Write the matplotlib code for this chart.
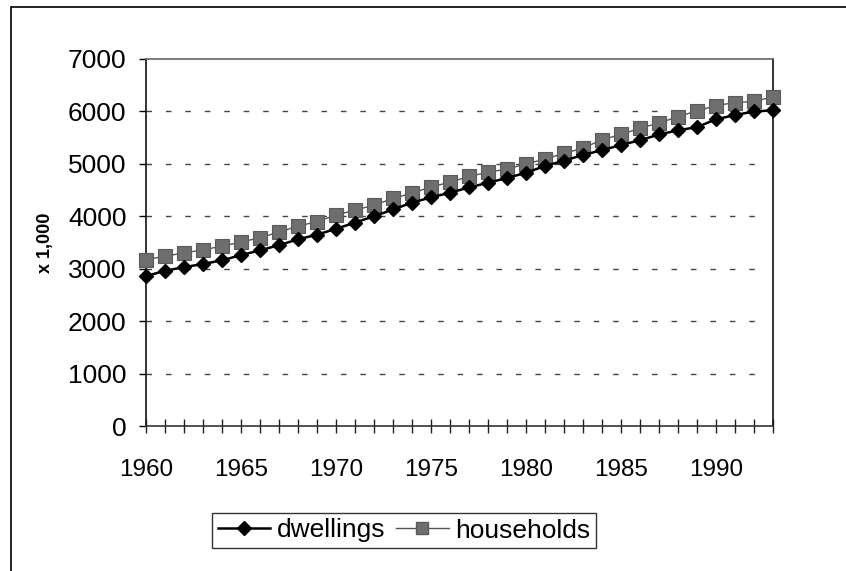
import matplotlib
matplotlib.use("Agg")
import matplotlib.pyplot as plt
from matplotlib.lines import Line2D

years = list(range(1960, 1994))
dwellings = [2860, 2960, 3030, 3090, 3160, 3260, 3350, 3450, 3560, 3650,
             3760, 3880, 4000, 4130, 4260, 4360, 4450, 4550, 4640, 4730,
             4830, 4960, 5060, 5170, 5260, 5360, 5450, 5560, 5640, 5700,
             5850, 5930, 6000, 6020]
households = [3170, 3240, 3300, 3360, 3430, 3510, 3590, 3700, 3810, 3900,
              4020, 4120, 4210, 4340, 4440, 4560, 4650, 4760, 4840, 4900,
              5000, 5090, 5200, 5300, 5460, 5560, 5680, 5780, 5900, 6010,
              6110, 6170, 6190, 6280]
y_ticks = [0, 1000, 2000, 3000, 4000, 5000, 6000, 7000]
x_label_years = [1960, 1965, 1970, 1975, 1980, 1985, 1990]

plt.rcParams['font.family'] = ['Liberation Sans', 'DejaVu Sans']

fig = plt.figure(figsize=(8.46, 5.71), dpi=100)
ax = fig.add_axes([146/846, 1-426/571, (773-146)/846, (426-59)/571])

ax.plot(years, households, color='#555555', lw=1.0, marker='s', markersize=10.5,
        markerfacecolor='#6e6e6e', markeredgecolor='#5a5a5a', markeredgewidth=0.8,
        clip_on=False, zorder=3, label='households')
ax.plot(years, dwellings, color='black', lw=1.8, marker='D', markersize=7.5,
        markerfacecolor='black', markeredgecolor='black',
        clip_on=False, zorder=4, label='dwellings')

ax.set_xlim(1960, 1993)
ax.set_ylim(0, 7000)
ax.set_yticks(y_ticks)
ax.set_yticklabels([str(v) for v in y_ticks], fontsize=19)
ax.set_xticks(x_label_years)
ax.set_xticklabels([str(v) for v in x_label_years], fontsize=17.5)
ax.set_xticks(years, minor=True)
ax.tick_params(axis='x', which='both', direction='inout', length=10, width=1, pad=19, color='#222222')
ax.tick_params(axis='y', which='major', direction='out', length=5, width=1, pad=9)

for v in y_ticks[1:-1]:
    ax.axhline(v, color='#444444', lw=1.0, ls=(0, (4, 10)), zorder=1, xmax=0.985)

for s in ['left', 'right']:
    ax.spines[s].set_color('#111111')
    ax.spines[s].set_linewidth(1.2)
ax.spines['top'].set_color('#666666')
ax.spines['top'].set_linewidth(1.2)
ax.spines['bottom'].set_color('#333333')
ax.spines['bottom'].set_linewidth(1.2)

ax.set_ylabel('x 1,000', fontsize=13, fontweight='bold', labelpad=10)

handles = [Line2D([], [], color='black', lw=1.8, marker='D', markersize=7),
           Line2D([], [], color='#555555', lw=1.0, marker='s', markersize=8,
                  markerfacecolor='#6e6e6e', markeredgecolor='#5a5a5a')]
leg = fig.legend(handles, ['dwellings', 'households'], loc='center',
                 bbox_to_anchor=(404/846, 1-530.5/571), ncol=2, fontsize=19,
                 frameon=True, fancybox=False, edgecolor='black',
                 handlelength=2.0, handletextpad=0.25, columnspacing=0.4,
                 borderpad=0.2, borderaxespad=0)
leg.get_frame().set_linewidth(1.0)

# outer frame (top and left edges)
fig.add_artist(Line2D([12/846, 1.0], [1-7/571, 1-7/571], transform=fig.transFigure,
                      color='black', lw=1.2))
fig.add_artist(Line2D([11/846, 11/846], [0, 1-7/571], transform=fig.transFigure,
                      color='black', lw=1.2))

fig.savefig('out.png', dpi=100, facecolor='white')
